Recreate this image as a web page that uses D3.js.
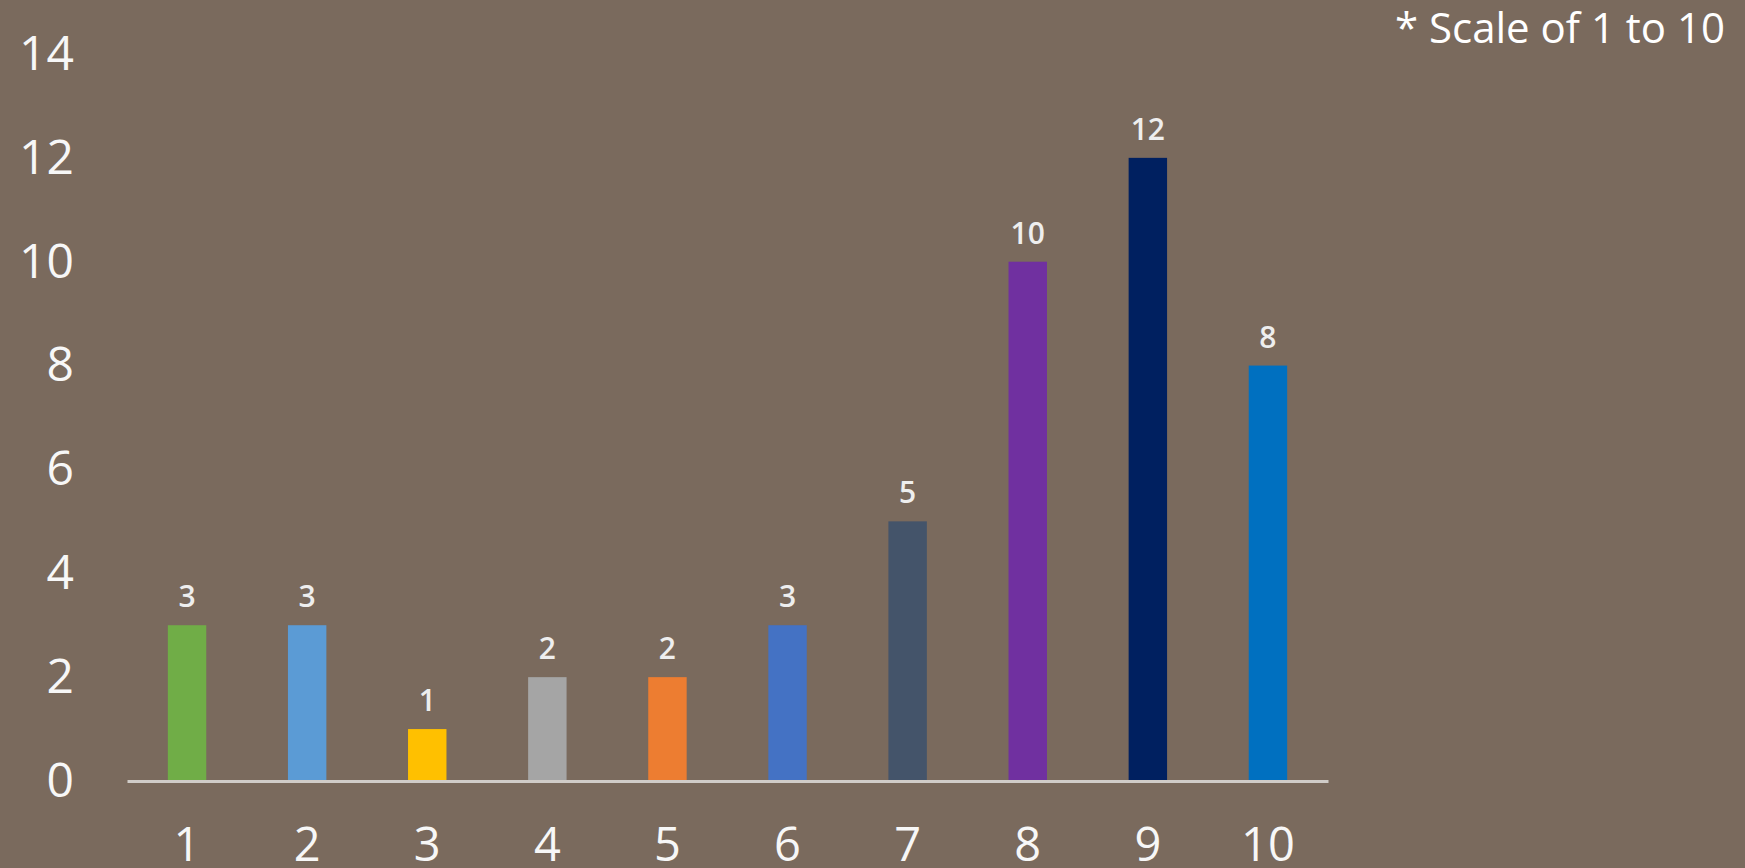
<!DOCTYPE html>
<html><head><meta charset="utf-8">
<script src="https://cdn.jsdelivr.net/npm/d3@7/dist/d3.min.js"></script>
<style>
html,body{margin:0;padding:0;background:#7a6a5d;overflow:hidden;}
svg{display:block;}
</style></head>
<body>
<svg id="chart" width="1745" height="868"></svg>
<script>
const categories = ["1","2","3","4","5","6","7","8","9","10"];
const values = [3,3,1,2,2,3,5,10,12,8];
const colors = ["#70AD47","#5B9BD5","#FFC000","#A5A5A5","#ED7D31","#4472C4","#44546A","#7030A0","#002060","#0070C0"];
const yTicks = [0,2,4,6,8,10,12,14];
const note = "* Scale of 1 to 10";

const svg = d3.select("#chart");
svg.append("rect").attr("width",1745).attr("height",868).attr("fill","#7a6a5d");

const x = d3.scaleBand().domain(categories).range([127,1328]).paddingInner(0.68).paddingOuter(0.34);
const y = d3.scaleLinear().domain([0,14]).range([781,54]);

// bars
svg.append("g").selectAll("rect").data(values).join("rect")
  .attr("x",(d,i)=>x(categories[i]))
  .attr("y",d=>y(d))
  .attr("width",x.bandwidth())
  .attr("height",d=>y(0)-y(d))
  .attr("fill",(d,i)=>colors[i]);

// baseline axis
const xAxis = d3.axisBottom(x).tickSize(0).tickPadding(0);
const gx = svg.append("g").attr("transform",`translate(0,${y(0)})`).call(xAxis);
gx.select(".domain").attr("stroke","#d0ccc8").attr("stroke-width",3);
gx.selectAll(".tick text").attr("font-family","'Open Sans', sans-serif").attr("font-size",47)
  .attr("font-weight",500)
  .attr("fill","#f7f7f7").attr("dy",null).attr("y",80);

// y axis labels
const yAxis = d3.axisLeft(y).tickValues(yTicks).tickSize(0).tickPadding(0);
const gy = svg.append("g").attr("transform","translate(74,0)").call(yAxis);
gy.select(".domain").remove();
gy.selectAll(".tick text").attr("font-family","'Open Sans', sans-serif").attr("font-size",48)
  .attr("font-weight",500)
  .attr("fill","#f7f7f7").attr("dy","0.32em").attr("x",0);

// value labels
svg.append("g").selectAll("text").data(values).join("text")
  .attr("x",(d,i)=>x(categories[i])+x.bandwidth()/2)
  .attr("y",d=>y(d)-18)
  .attr("text-anchor","middle")
  .attr("font-family","'Open Sans', sans-serif").attr("font-size",30).attr("font-weight",600)
  .attr("fill","#eeeeee")
  .text(d=>d);

// note
svg.append("text").attr("x",1725).attr("y",43).attr("text-anchor","end")
  .attr("font-family","'Open Sans', sans-serif").attr("font-size",42).attr("fill","#ffffff")
  .text(note);
</script>
</body></html>
